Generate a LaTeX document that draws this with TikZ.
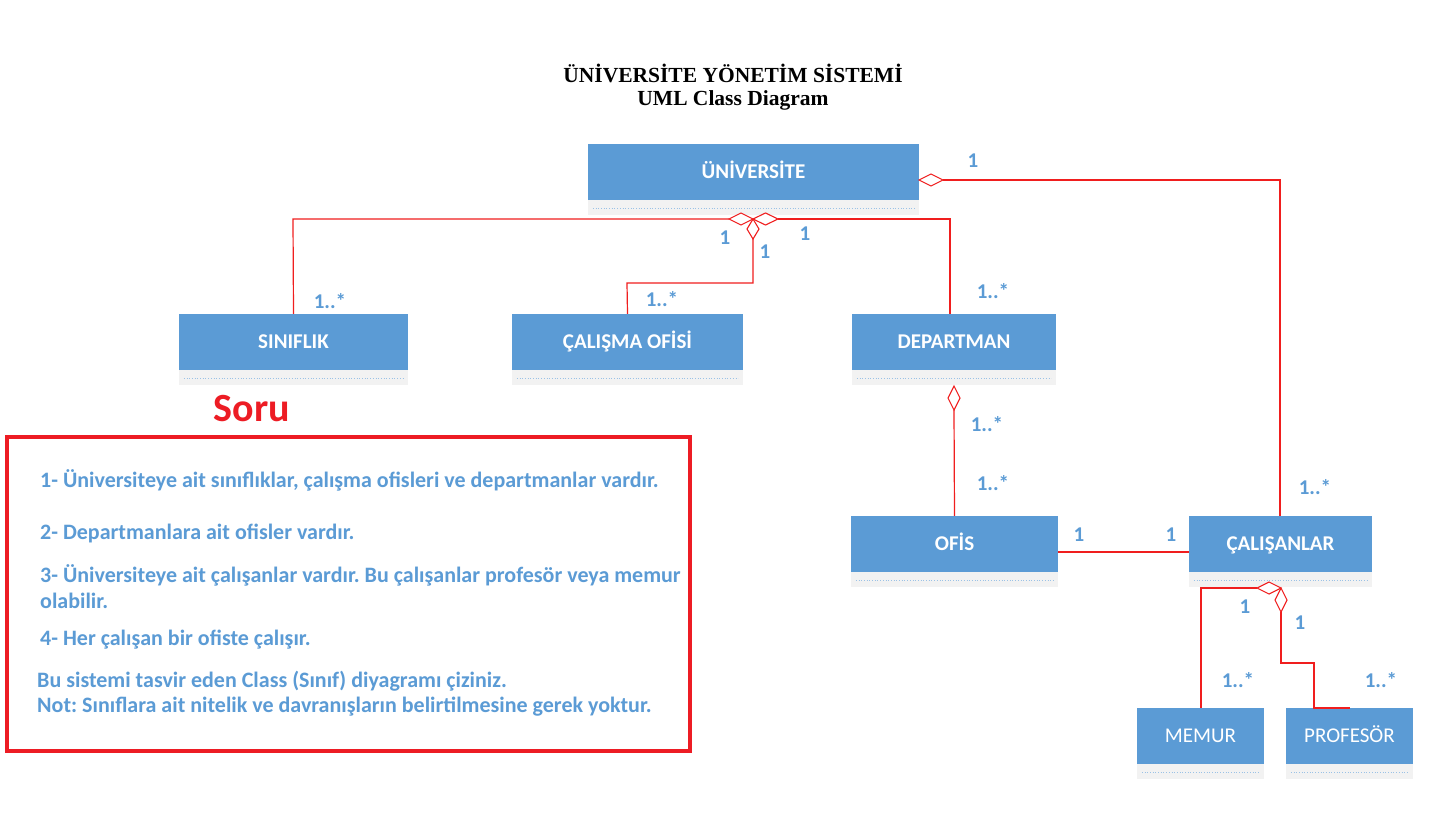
\documentclass[tikz,border=0pt]{standalone}
\usepackage{fontspec}
\setmainfont{Carlito}
\newfontfamily\titlefont{Liberation Serif}
\frenchspacing
\definecolor{umlblue}{RGB}{91,155,213}
\definecolor{compgray}{RGB}{242,242,242}
\definecolor{dotblue}{RGB}{155,194,230}
\definecolor{linered}{RGB}{240,30,30}
\definecolor{boxred}{RGB}{237,28,36}
\tikzset{
  classbox/.style={fill=umlblue, draw=none, text=white, font=\fontsize{21}{24}\selectfont\bfseries, inner sep=0pt, minimum height=56pt, text height=13.5pt, text depth=0pt},
  classboxlight/.style={classbox, font=\fontsize{21}{24}\selectfont},
  compbox/.style={fill=compgray, draw=none, inner sep=0pt, minimum height=15pt},
  conn/.style={draw=linered, line width=1.2pt},
  diam/.style={draw=linered, line width=1.1pt, fill=white},
  mult/.style={text=umlblue, font=\fontsize{21}{24}\selectfont\bfseries, inner sep=0pt, text height=13.5pt, text depth=0pt},
  qtext/.style={text=umlblue, font=\fontsize{22}{26}\selectfont\bfseries, inner sep=0pt, anchor=west},
}
\newcommand{\classnode}[6]{%
  \node[#6, minimum width=#4pt] (#1) at (#2,#3) {#5};
  \node[compbox, minimum width=#4pt, anchor=north] (#1-c) at (#1.south) {};
  \draw[dotblue, line width=0.7pt, dotted] ([xshift=5pt]#1-c.west) -- ([xshift=-5pt]#1-c.east);
}
\begin{document}
\begin{tikzpicture}[x=1pt,y=-1pt]
\useasboundingbox (0,0) rectangle (1444,822);
\fill[white] (0,0) rectangle (1444,822);

% title
\node[font=\titlefont\fontsize{21.5}{24}\selectfont\bfseries] (title1) at (733,73) {ÜNİVERSİTE YÖNETİM SİSTEMİ};
\node[font=\titlefont\fontsize{21.5}{24}\selectfont\bfseries] (title2) at (733,100) {UML Class Diagram};

% classes
\classnode{uni}{753.5}{172}{331}{ÜNİVERSİTE}{classbox}
\classnode{sinif}{293.5}{342}{229}{SINIFLIK}{classbox}
\classnode{calof}{627.5}{342}{231}{ÇALIŞMA OFİSİ}{classbox}
\classnode{dep}{954}{342}{204}{DEPARTMAN}{classbox}
\classnode{ofis}{954.5}{544}{207}{OFİS}{classbox}
\classnode{cal}{1280.5}{544}{183}{ÇALIŞANLAR}{classbox}
\classnode{memur}{1200.5}{736}{127}{MEMUR}{classboxlight}
\classnode{prof}{1349.5}{736}{127}{PROFESÖR}{classboxlight}

% connector points
\coordinate (hub) at (753,219);
\coordinate (hubL) at (729,219);
\coordinate (hubR) at (778,219);
\coordinate (hubD) at (753,239);
\coordinate (uniR) at (919,180);
\coordinate (uniRd) at (943,180);
\coordinate (depD) at (954,386);
\coordinate (depDd) at (954,410);
\coordinate (calhub) at (1281,588);
\coordinate (calL) at (1257,588);
\coordinate (calD) at (1281,612);

% connectors
\draw[conn] (hubL) -- (293,219) -- (sinif.north);
\draw[conn] (hubR) -- (950,219) -- (950,314);
\draw[conn] (hubD) -- (753,283) -- (627,283) -- (calof.north);
\draw[conn] (uniRd) -- (1280,180) -- (1280,516);
\draw[conn] (depDd) -- (ofis.north);
\draw[conn] (ofis.east |- 0,552) -- (cal.west |- 0,552);
\draw[conn] (calL) -- (1201,588) -- (1201,708);
\draw[conn] (calD) -- (1281,663) -- (1314,663) -- (1314,708) -- (1350,708);

% diamonds
\draw[diam] (hubL) -- (741,213) -- (hub) -- (741,225) -- cycle;
\draw[diam] (hub) -- (765.5,213) -- (hubR) -- (765.5,225) -- cycle;
\draw[diam] (hub) -- (747,229) -- (hubD) -- (759,229) -- cycle;
\draw[diam] (uniR) -- (931,174) -- (uniRd) -- (931,186) -- cycle;
\draw[diam] (depD) -- (948,398) -- (depDd) -- (960,398) -- cycle;
\draw[diam] (calhub) -- (1269,582) -- (calL) -- (1269,594) -- cycle;
\draw[diam] (calhub) -- (1275,600) -- (calD) -- (1287,600) -- cycle;

% multiplicities
\node[mult] (m1) at (973,161) {1};
\node[mult] (m2) at (725,238) {1};
\node[mult] (m3) at (765,252) {1};
\node[mult] (m4) at (805,234) {1};
\node[mult] (m5) at (330,302) {1..*};
\node[mult] (m6) at (662,300) {1..*};
\node[mult] (m7) at (993,292) {1..*};
\node[mult] (m8) at (987,425) {1..*};
\node[mult] (m9) at (993,484) {1..*};
\node[mult] (m10) at (1315,488) {1..*};
\node[mult] (m11) at (1079,535) {1};
\node[mult] (m12) at (1171,535) {1};
\node[mult] (m13) at (1245,607) {1};
\node[mult] (m14) at (1300,623) {1};
\node[mult] (m15) at (1238,681) {1..*};
\node[mult] (m16) at (1381,681) {1..*};

% question box
\node[text=boxred, font=\fontsize{40}{44}\selectfont\bfseries, inner sep=0pt] (soru) at (252,409) {Soru};
\draw[boxred, line width=4.5pt] (7,437) rectangle (690,751);
\node[qtext] (q1) at (40,480) {1- Üniversiteye ait sınıflıklar, çalışma ofisleri ve departmanlar vardır.};
\node[qtext] (q2) at (40,533) {2- Departmanlara ait ofisler vardır.};
\node[qtext] (q3) at (40,575) {3- Üniversiteye ait çalışanlar vardır. Bu çalışanlar profesör veya memur};
\node[qtext] (q3b) at (40,601) {olabilir.};
\node[qtext] (q4) at (40,640) {4- Her çalışan bir ofiste çalışır.};
\node[qtext] (q5) at (37,681) {Bu sistemi tasvir eden Class (Sınıf) diyagramı çiziniz.};
\node[qtext] (q6) at (37,707) {Not: Sınıflara ait nitelik ve davranışların belirtilmesine gerek yoktur.};
\end{tikzpicture}
\end{document}
